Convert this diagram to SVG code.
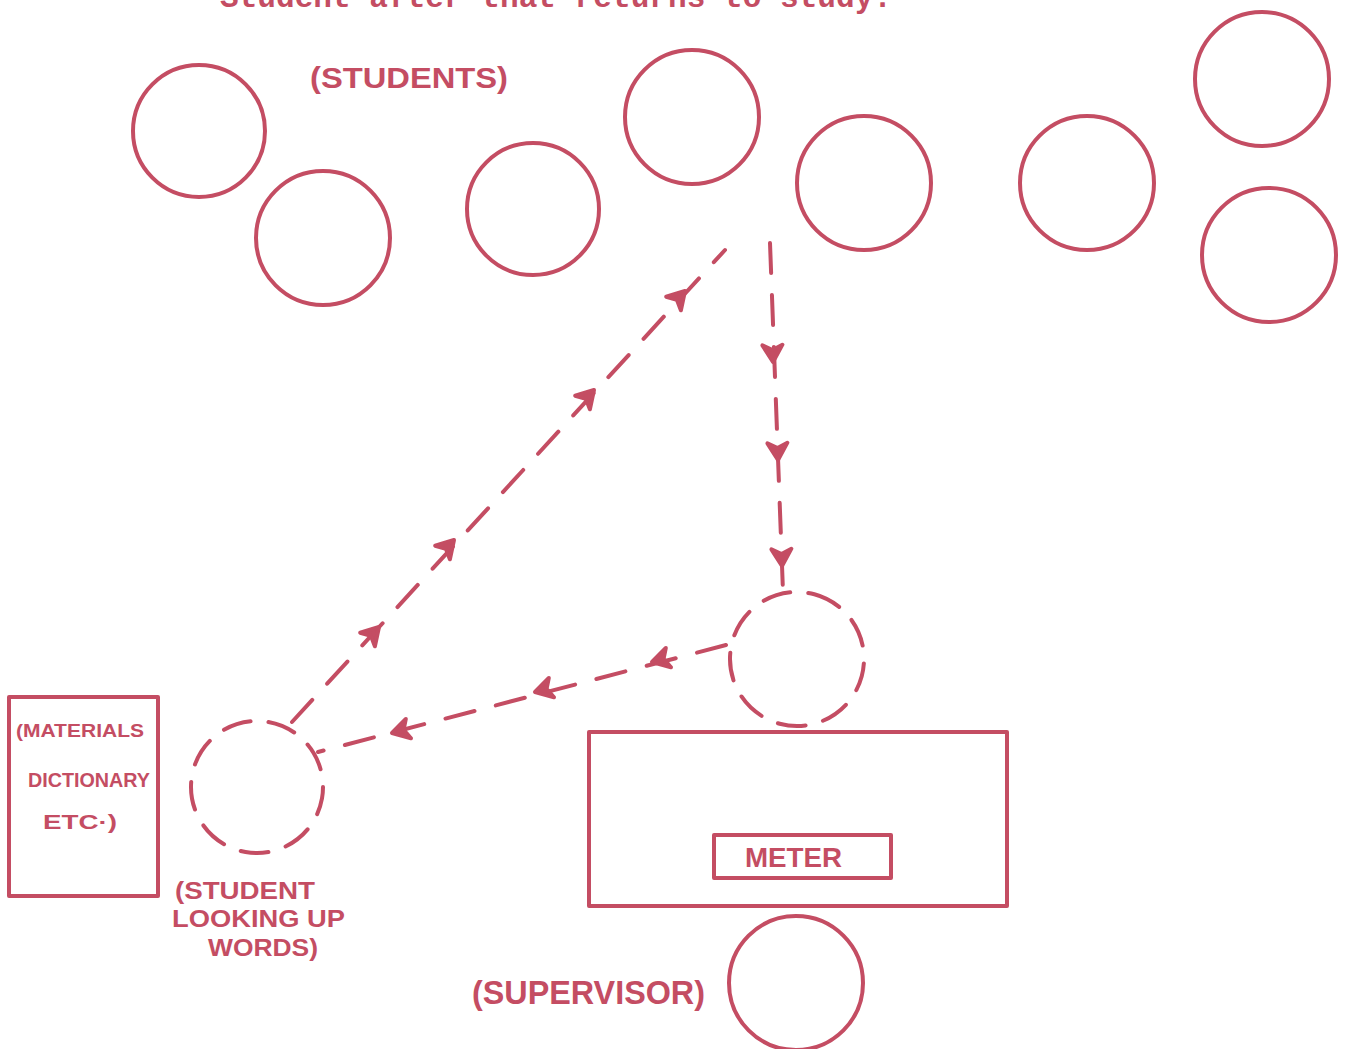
<svg xmlns="http://www.w3.org/2000/svg" width="1345" height="1049" viewBox="0 0 1345 1049">
<style>
.ln{fill:none;stroke:#c44d63;stroke-width:4;stroke-linecap:round;stroke-linejoin:round}
.dash{stroke-dasharray:28 18}
.dl{fill:none;stroke:#c44d63;stroke-width:4;stroke-linecap:round;stroke-dasharray:30 22}
.hand{font-family:"Liberation Sans",Arial,sans-serif;font-weight:bold;fill:#c44d63}
.type{font-family:"Liberation Mono","Courier New",monospace;font-weight:bold;fill:#c44d63}
</style>
<defs>
<path id="ah" d="M0,0 L-17,-10 L-12,0 L-17,10 Z" fill="#c44d63" stroke="#c44d63" stroke-width="4" stroke-linejoin="round"/>
</defs>
<rect width="1345" height="1049" fill="#ffffff"/>
<text class="type" x="220" y="7" font-size="31" textLength="672" lengthAdjust="spacingAndGlyphs">Student after that returns to study.</text>

<g id="students">
<circle id="s1" class="ln" cx="199" cy="131" r="66"/>
<circle id="s2" class="ln" cx="323" cy="238" r="67"/>
<circle id="s3" class="ln" cx="533" cy="209" r="66"/>
<circle id="s4" class="ln" cx="692" cy="117" r="67"/>
<circle id="s5" class="ln" cx="864" cy="183" r="67"/>
<circle id="s6" class="ln" cx="1087" cy="183" r="67"/>
<circle id="s7" class="ln" cx="1262" cy="79" r="67"/>
<circle id="s8" class="ln" cx="1269" cy="255" r="67"/>
<text class="hand" x="310" y="88" font-size="30" textLength="198" lengthAdjust="spacingAndGlyphs">(STUDENTS)</text>
</g>

<g id="materials">
<rect class="ln" x="9" y="697" width="149" height="199"/>
<text class="hand" x="16" y="737" font-size="19" textLength="128" lengthAdjust="spacingAndGlyphs">(MATERIALS</text>
<text class="hand" x="28" y="787" font-size="21" textLength="122" lengthAdjust="spacingAndGlyphs">DICTIONARY</text>
<text class="hand" x="43" y="829" font-size="21" textLength="74" lengthAdjust="spacingAndGlyphs">ETC·)</text>
</g>

<g id="student-looking">
<circle class="ln dash" cx="257" cy="787" r="66" transform="rotate(-80 257 787)"/>
<text class="hand" x="175" y="899" font-size="24" textLength="140" lengthAdjust="spacingAndGlyphs">(STUDENT</text>
<text class="hand" x="172" y="927" font-size="24" textLength="173" lengthAdjust="spacingAndGlyphs">LOOKING UP</text>
<text class="hand" x="208" y="956" font-size="24" textLength="110" lengthAdjust="spacingAndGlyphs">WORDS)</text>
</g>

<g id="meter-station">
<circle class="ln dash" cx="797" cy="659" r="67" transform="rotate(-75 797 659)"/>
</g>

<g id="desk">
<rect class="ln" x="589" y="732" width="418" height="174"/>
</g>

<g id="meter">
<rect class="ln" x="714" y="835" width="177" height="43"/>
<text class="hand" x="745" y="867" font-size="28" textLength="97" lengthAdjust="spacingAndGlyphs">METER</text>
</g>

<g id="supervisor">
<circle class="ln" cx="796" cy="983" r="67"/>
<text class="hand" x="472" y="1004" font-size="34" textLength="233" lengthAdjust="spacingAndGlyphs">(SUPERVISOR)</text>
</g>

<g id="connectors">
<path class="dl" d="M292,722 L725,250"/>
<use href="#ah" transform="translate(379,627) rotate(-47.5)"/>
<use href="#ah" transform="translate(454,540) rotate(-47.5)"/>
<use href="#ah" transform="translate(594,390) rotate(-47.5)"/>
<use href="#ah" transform="translate(685,291) rotate(-47.5)"/>

<path class="dl" d="M770,243 L783,592"/>
<use href="#ah" transform="translate(773,362) rotate(88)"/>
<use href="#ah" transform="translate(778,460) rotate(88)"/>
<use href="#ah" transform="translate(782,566) rotate(88)"/>

<path class="dl" d="M726,645 L318,752"/>
<use href="#ah" transform="translate(652,662) rotate(165)"/>
<use href="#ah" transform="translate(535,692) rotate(165)"/>
<use href="#ah" transform="translate(392,733) rotate(165)"/>
</g>
</svg>
